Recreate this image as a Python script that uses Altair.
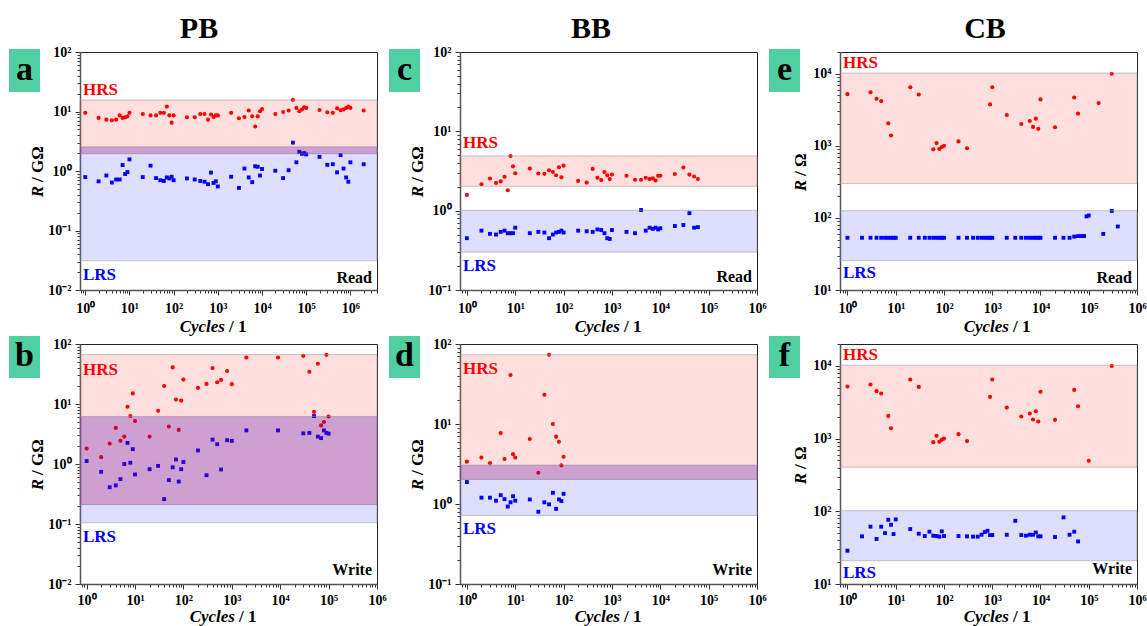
import math
import altair as alt
import pandas as pd

# ---------------- data ----------------
# Panel a : PB, Read
A_CYC = [1, 2, 3, 4, 5, 6, 7, 8, 9, 10, 20, 30, 40, 50, 60, 70, 80, 90, 100,
         200, 300, 400, 500, 600, 700, 800, 900, 1000,
         2000, 3000, 4000, 5000, 6000, 7000, 8000, 9000, 1e4,
         2e4, 3e4, 4e4, 5e4, 6e4, 7e4, 8e4, 9e4, 1e5,
         2e5, 3e5, 4e5, 5e5, 6e5, 7e5, 8e5, 9e5, 1e6, 2e6]
A_HRS = [9.5, 7.8, 7.3, 7.1, 7.3, 8.6, 7.8, 8.0, 8.3, 9.5,
         9.1, 8.6, 8.6, 9.5, 9.5, 12.1, 8.6, 6.5, 8.6,
         8.0, 8.0, 9.1, 9.1, 7.3, 8.9, 8.1, 8.6, 8.6,
         9.5, 7.7, 8.1, 10.4, 8.3, 5.6, 8.3, 10.1, 11.0,
         9.1, 9.8, 10.4, 15.7, 11.5, 10.1, 10.8, 11.8, 11.5,
         10.6, 9.7, 9.5, 11.3, 10.5, 10.8, 11.5, 12.1, 11.5, 10.4]
A_LRS = [0.79, 0.67, 0.84, 0.64, 0.72, 0.72, 1.26, 0.89, 0.96, 1.57,
         0.79, 1.23, 0.76, 0.70, 0.68, 0.78, 0.75, 0.80, 0.70,
         0.75, 0.72, 0.68, 0.66, 0.60, 0.94, 0.63, 0.67, 0.55,
         0.80, 0.52, 1.10, 0.78, 0.65, 1.20, 1.18, 0.84, 1.08,
         1.01, 0.76, 1.03, 3.0, 1.4, 2.1, 1.95, 2.0, 1.9,
         1.73, 1.27, 1.30, 0.95, 1.85, 1.10, 0.78, 0.66, 1.40, 1.30]
A_HRS_BAND = [1.95, 15.6]
A_LRS_BAND = [0.031, 2.55]

# Panel b : PB, Write
B_CYC = [1, 2, 3, 4, 5, 6, 7, 8, 9, 10, 20, 30, 40, 50, 60, 70, 80, 90, 100,
         200, 300, 400, 500, 600, 800, 1000, 2000, 9000,
         3e4, 4e4, 5e4, 6e4, 7e4, 8e4, 9e4, 1e5]
B_HRS = [1.81, 1.3, 2.19, 4.0, 2.43, 2.86, 9.0, 6.3, 15.0, 5.2,
         2.86, 7.7, 20, 4.2, 40.7, 11.9, 3.7, 11.4, 25.5,
         18.6, 21.6, 39.7, 23, 25.2, 35.4, 21.4, 59.6, 59.6,
         63.4, 34.5, 7.4, 46.8, 4.4, 5.0, 65.9, 6.2]
B_LRS = [1.12, 0.74, 0.41, 0.44, 0.56, 1.0, 2.25, 1.05, 1.77, 0.67,
         0.82, 0.93, 0.26, 0.54, 0.88, 1.19, 0.51, 0.82, 1.08,
         1.68, 0.65, 2.55, 2.14, 0.81, 2.49, 2.43, 3.63, 3.63,
         3.24, 3.3, 6.3, 2.86, 2.7, 3.63, 3.3, 3.2]
B_HRS_BAND = [0.21, 66.7]
B_LRS_BAND = [0.105, 6.2]

# Panel c : BB, Read
C_CYC = [1, 2, 3, 4, 5, 6, 7, 8, 9, 10, 20, 30, 40, 50, 60, 70, 80, 90, 100,
         200, 300, 400, 500, 600, 700, 800, 900, 1000,
         2000, 3000, 4000, 5000, 6000, 7000, 8000, 9000, 1e4,
         2e4, 3e4, 4e4, 5e4, 6e4]
C_HRS = [1.58, 2.15, 2.54, 2.24, 2.34, 2.68, 1.81, 4.89, 3.62, 2.96,
         3.39, 2.94, 2.91, 3.23, 3.07, 2.8, 3.52, 2.64, 3.69,
         2.37, 2.26, 3.36, 2.6, 2.43, 3.07, 2.8, 2.5, 2.86,
         2.75, 2.45, 2.45, 2.6, 2.5, 2.55, 2.4, 2.75, 2.75,
         2.9, 3.5, 2.85, 2.7, 2.5]
C_LRS = [0.45, 0.56, 0.51, 0.5, 0.54, 0.56, 0.52, 0.52, 0.52, 0.61,
         0.52, 0.54, 0.53, 0.45, 0.5, 0.53, 0.54, 0.56, 0.53,
         0.56, 0.55, 0.54, 0.58, 0.57, 0.52, 0.45, 0.44, 0.57,
         0.54, 0.52, 1.02, 0.56, 0.61, 0.59, 0.61, 0.58, 0.6,
         0.64, 0.66, 0.93, 0.61, 0.62]
C_HRS_BAND = [2.03, 4.9]
C_LRS_BAND = [0.30, 1.01]

# Panel d : BB, Write
D_HRS_CYC = [1, 2, 3, 5, 6, 8, 9, 10, 20, 30, 40, 50, 60, 70, 80, 90, 100]
D_HRS = [3.38, 3.8, 3.25, 7.7, 3.65, 40.9, 4.2, 3.8, 6.5, 2.46, 23.2, 73.5,
         10, 6.95, 6.0, 3.04, 3.9]
D_LRS_CYC = [1, 2, 3, 4, 5, 6, 7, 8, 9, 10, 20, 30, 40, 50, 60, 70, 80, 90, 100]
D_LRS = [1.88, 1.2, 1.2, 1.1, 1.29, 1.15, 0.93, 1.05, 1.25, 1.1,
         1.14, 0.8, 1.05, 0.99, 1.38, 0.87, 1.14, 1.09, 1.34]
D_HRS_BAND = [2.03, 73.5]
D_LRS_BAND = [0.72, 3.07]

# Panel e : CB, Read
E_HRS_CYC = [1, 3, 4, 5, 7, 8, 20, 30, 60, 70, 80, 90, 100, 200, 300, 900, 1000,
             2000, 4000, 6000, 7000, 8000, 9000, 1e4, 2e4, 5e4, 6e4, 1.6e5, 3e5]
E_HRS = [5200, 5540, 4490, 4170, 2050, 1390, 6490, 5140, 893, 1090, 902, 961,
         1000, 1150, 923, 3750, 6490, 2670, 2010, 2210, 1830, 2380, 1720, 4400,
         1810, 4670, 2790, 3910, 10000]
E_LRS_CYC = [1, 2, 3, 4, 5, 6, 7, 8, 9, 10, 20, 30, 40, 50, 60, 70, 80, 90, 100,
             200, 300, 400, 500, 600, 700, 800, 900, 1000,
             2000, 3000, 4000, 5000, 6000, 7000, 8000, 9000, 1e4,
             2e4, 3e4, 4e4, 5e4, 6e4, 7e4, 8e4, 9e4, 1e5, 2e5, 3e5, 4e5]
E_LRS = [53, 53, 53, 53, 53, 53, 53, 53, 53, 53,
         53, 53, 53, 53, 53, 53, 53, 53, 53,
         53, 53, 53, 53, 53, 53, 53, 53, 53,
         53, 53, 53, 53, 53, 53, 53, 53, 53,
         53, 53, 53, 55, 56, 56, 56, 105, 108, 60, 125, 76]
E_HRS_BAND = [301, 10200]
E_LRS_BAND = [25.5, 126]

# Panel f : CB, Write
F_HRS_CYC = [1, 3, 4, 5, 7, 8, 20, 30, 60, 70, 80, 90, 100, 200, 300, 900, 1000,
             2000, 4000, 6000, 7000, 8000, 9000, 1e4, 2e4, 5e4, 6e4, 1e5, 3e5]
F_HRS = [5200, 5540, 4490, 4170, 2050, 1390, 6490, 5140, 893, 1090, 902, 961,
         1000, 1150, 923, 3750, 6490, 2670, 2010, 2210, 1830, 2380, 1720, 4400,
         1810, 4670, 2790, 495, 10000]
F_LRS_CYC = [1, 2, 3, 4, 5, 6, 7, 8, 9, 10, 20, 30, 40, 50, 60, 70, 80, 90, 100,
             200, 300, 400, 500, 600, 700, 800, 900, 1000,
             2000, 3000, 4000, 5000, 6000, 7000, 8000, 9000, 1e4,
             2e4, 3e4, 4e4, 5e4, 6e4]
F_LRS = [28.7, 45.2, 61.4, 41.6, 61.4, 50.1, 76.5, 65.3, 48.6, 77.3,
         57, 49.2, 45.7, 52.4, 46.2, 45.7, 44.8, 53, 45.7,
         45.7, 45.2, 44.8, 44.8, 47.6, 51.8, 53.9, 47.1, 47.1,
         47.6, 74, 47.1, 46.2, 47.6, 47.6, 51.1, 45.2, 45.2,
         44.3, 82.4, 47.6, 52.4, 38.5]
F_HRS_BAND = [405, 10200]
F_LRS_BAND = [20.9, 102]

COLUMN_TITLES = ["PB", "BB", "CB"]
LETTERS = ["a", "b", "c", "d", "e", "f"]

# ---------------- styling helpers ----------------
FONT = "Liberation Serif"
W = 297
H_TOP = 238
H_BOT = 240
GREEN = "#50d0a0"

SUP = {-2: "⁻²", -1: "⁻¹", 0: "⁰", 1: "¹", 2: "²", 3: "³", 4: "⁴", 5: "⁵", 6: "⁶"}
E_EXPR = "round(log(datum.value)/LN10)"
IS_MAJOR = f"abs(log(datum.value)/LN10 - {E_EXPR}) < 0.001"


def label_expr():
    nested = "''"
    for k in sorted(SUP.keys(), reverse=True):
        nested = f"({E_EXPR} == {k} ? '10{SUP[k]}' : {nested})"
    return f"{IS_MAJOR} ? {nested} : ''"


def log_ticks(lo, hi):
    vals = []
    for k in range(math.floor(math.log10(lo)), math.ceil(math.log10(hi)) + 1):
        for m in range(1, 10):
            v = m * 10.0 ** k
            if lo * 0.999 <= v <= hi * 1.001:
                vals.append(v)
    return vals


def make_axis(orient, ticks, pad):
    return alt.Axis(
        orient=orient, values=ticks, labelExpr=label_expr(), title=None,
        grid=False, labelFont=FONT, labelFontSize=14, labelFontWeight="bold",
        labelColor="black", labelPadding=pad,
        labelFlush=False, labelOverlap=False,
        tickSize={"condition": {"test": IS_MAJOR, "value": 5}, "value": 3},
        tickColor="#333333", tickWidth=1, domainColor="#555555", domainWidth=1.5,
    )


def text_layer(s, x, y, size, color="black", align="left", baseline="middle",
               style="normal", angle=0):
    return alt.Chart(pd.DataFrame({"t": [s]})).mark_text(
        align=align, baseline=baseline, font=FONT, fontSize=size,
        fontWeight="bold", fontStyle=style, color=color, angle=angle,
    ).encode(x=alt.value(x), y=alt.value(y), text="t:N")


def panel(hrs_cyc, hrs, lrs_cyc, lrs, hrs_band, lrs_band, xdom, ydom, H,
          letter, state, unit_g, pos, xt_cx, box_y, letter_y, title=None,
          bounds_box=False):
    top_row = H == H_TOP
    xs = alt.Scale(type="log", domain=xdom, nice=False)
    ys = alt.Scale(type="log", domain=ydom, nice=False)
    xax = make_axis("bottom", log_ticks(*xdom), 6 if top_row else 4)
    yax = make_axis("left", log_ticks(*ydom), 4)

    red = alt.Chart(pd.DataFrame({"c": hrs_cyc, "r": hrs})).mark_circle(
        size=17, color="#ff0000", opacity=1
    ).encode(x=alt.X("c:Q", scale=xs, axis=xax), y=alt.Y("r:Q", scale=ys, axis=yax))
    blue = alt.Chart(pd.DataFrame({"c": lrs_cyc, "r": lrs})).mark_square(
        size=15, color="#0000ff", opacity=1
    ).encode(x=alt.X("c:Q", scale=xs, axis=xax), y=alt.Y("r:Q", scale=ys, axis=yax))

    band_df = pd.DataFrame({"lo": [hrs_band[0], lrs_band[0]],
                            "hi": [hrs_band[1], lrs_band[1]],
                            "state": ["HRS", "LRS"]})
    bands = alt.Chart(band_df).mark_rect(
        fillOpacity=0.13, stroke="#9a9a9a", strokeOpacity=0.55, strokeWidth=1
    ).encode(
        x=alt.value(0), x2=alt.value(W),
        y=alt.Y("lo:Q", scale=ys, axis=yax), y2="hi:Q",
        fill=alt.Fill("state:N", scale=alt.Scale(domain=["HRS", "LRS"],
                                                 range=["#ff0000", "#0000ff"]),
                      legend=None),
    )
    layers = [red, blue, bands]

    olo = max(hrs_band[0], lrs_band[0])
    ohi = min(hrs_band[1], lrs_band[1])
    if olo < ohi:
        overlap = alt.Chart(pd.DataFrame({"lo": [olo], "hi": [ohi]})).mark_rect(
            color="#800080", opacity=0.17
        ).encode(x=alt.value(0), x2=alt.value(W),
                 y=alt.Y("lo:Q", scale=ys, axis=yax), y2="hi:Q")
        layers.append(overlap)

    box = alt.Chart(pd.DataFrame({"t": [letter]})).mark_rect(color=GREEN).encode(
        x=alt.value(-71), x2=alt.value(-40), y=alt.value(box_y[0]), y2=alt.value(box_y[1]))
    layers.append(box)
    layers.append(text_layer(letter, -55.5, letter_y, 34, align="center",
                             baseline="alphabetic"))

    hy, ly, sy = pos
    layers.append(text_layer("HRS", 3, hy, 17, color="#ff0000"))
    layers.append(text_layer("LRS", 3, ly, 17, color="#0000ff"))
    layers.append(text_layer(state, W - 5, sy, 16, align="right"))

    # y-axis title: italic R + upright unit
    if unit_g:
        p = H / 2 + 15
        unit = "/ GΩ"
    else:
        p = H / 2 + 9
        unit = "/ Ω"
    ytx = -42 if unit_g else -39
    layers.append(text_layer("R", ytx, p, 17, align="right", style="italic", angle=270))
    layers.append(text_layer(unit, ytx, p - 4, 17, align="left", angle=270))

    # x-axis title: italic Cycles + upright / 1
    xty = H + (37 if top_row else 33)
    layers.append(text_layer("Cycles", xt_cx + 12, xty, 17, align="right", style="italic"))
    layers.append(text_layer("/ 1", xt_cx + 16, xty, 17, align="left"))

    if title is not None:
        layers.append(text_layer(title[0], title[1], -14, 30, align="center",
                                 baseline="alphabetic"))
    if bounds_box:
        layers.append(alt.Chart(pd.DataFrame({"t": [0]})).mark_rect(opacity=0).encode(
            x=alt.value(-79), x2=alt.value(0), y=alt.value(-51), y2=alt.value(0)))

    return alt.layer(*layers).properties(width=W, height=H)


TOP_BOX = (-3, 40)
BOT_BOX = (-8, 34)

pa = panel(A_CYC, A_HRS, A_CYC, A_LRS, A_HRS_BAND, A_LRS_BAND,
           [0.76, 4e6], [0.01, 100], H_TOP, LETTERS[0], "Read", True,
           (37.5, 223, 226), 133, TOP_BOX, 28, title=(COLUMN_TITLES[0], 119),
           bounds_box=True)
pc = panel(C_CYC, C_HRS, C_CYC, C_LRS, C_HRS_BAND, C_LRS_BAND,
           [0.72, 1e6], [0.1, 100], H_TOP, LETTERS[2], "Read", True,
           (91, 214, 225), 148, TOP_BOX, 28, title=(COLUMN_TITLES[1], 131))
pe = panel(E_HRS_CYC, E_HRS, E_LRS_CYC, E_LRS, E_HRS_BAND, E_LRS_BAND,
           [0.7, 1e6], [10, 2e4], H_TOP, LETTERS[4], "Read", False,
           (11, 221, 226), 157, TOP_BOX, 28, title=(COLUMN_TITLES[2], 145))
pb = panel(B_CYC, B_HRS, B_CYC, B_LRS, B_HRS_BAND, B_LRS_BAND,
           [0.73, 1e6], [0.01, 100], H_BOT, LETTERS[1], "Write", True,
           (25.5, 192.5, 226), 143, BOT_BOX, 22)
pd_ = panel(D_HRS_CYC, D_HRS, D_LRS_CYC, D_LRS, D_HRS_BAND, D_LRS_BAND,
            [0.72, 1e6], [0.1, 100], H_BOT, LETTERS[3], "Write", True,
            (25, 185, 226), 148, BOT_BOX, 22)
pf = panel(F_HRS_CYC, F_HRS, F_LRS_CYC, F_LRS, F_HRS_BAND, F_LRS_BAND,
           [0.7, 1e6], [10, 2e4], H_BOT, LETTERS[5], "Write", False,
           (11, 229, 224.5), 157, BOT_BOX, 22)

chart = alt.concat(
    pa, pc, pe, pb, pd_, pf, columns=3,
    spacing={"row": 54, "column": 83}, bounds="flush",
).properties(
    padding=0, autosize=alt.AutoSizeParams(type="pad"), background="white"
).configure_view(stroke="#222222", strokeWidth=1)

chart.save("out.html", embed_options={"renderer": "svg", "actions": False})
